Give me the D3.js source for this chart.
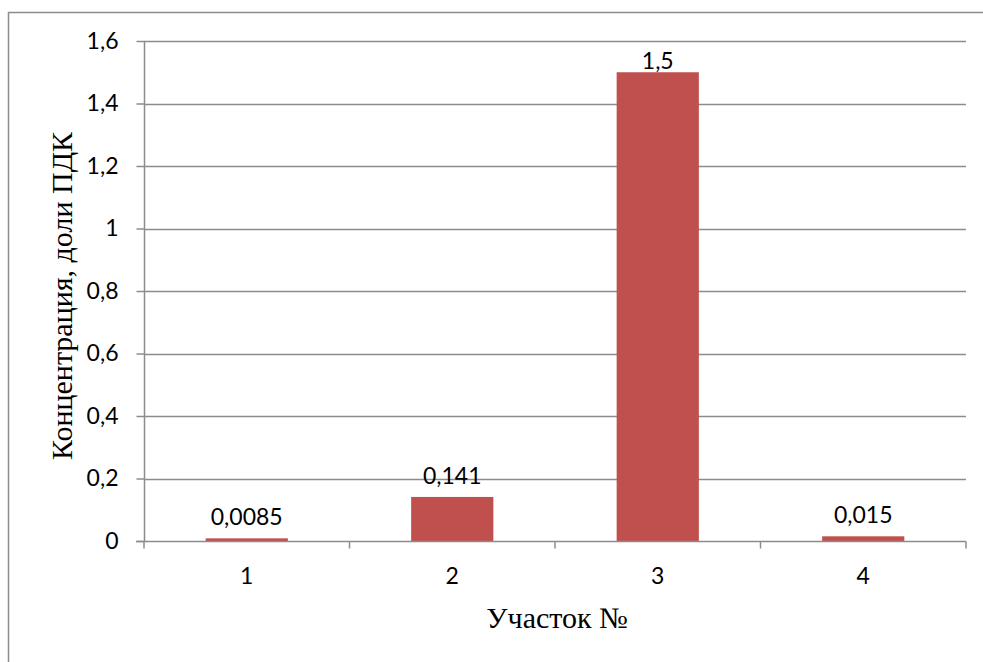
<!DOCTYPE html>
<html>
<head>
<meta charset="utf-8">
<script src="https://cdn.jsdelivr.net/npm/d3@7"></script>
<style>
  body { margin: 0; background: #fff; }
  svg { display: block; }
</style>
</head>
<body>
<div id="chart"></div>
<script>
// Concentration by site, in MPC fractions
const sites = ['1', '2', '3', '4'];
const concentrations = [0.0085, 0.141, 1.5, 0.015];
const valueLabels = ['0,0085', '0,141', '1,5', '0,015'];
const yTicks = [0, 0.2, 0.4, 0.6, 0.8, 1, 1.2, 1.4, 1.6];

const width = 983, height = 662;
const margin = { top: 41, right: 17, bottom: 121, left: 144 };
const innerW = width - margin.left - margin.right;
const innerH = height - margin.top - margin.bottom;

const svg = d3.select('#chart').append('svg')
  .attr('width', width)
  .attr('height', height);

// outer chart frame
svg.append('rect')
  .attr('x', 8.5).attr('y', 12.5)
  .attr('width', width + 10).attr('height', height + 10)
  .attr('fill', 'none')
  .attr('stroke', '#8c8c8c')
  .attr('stroke-width', 1.5);

const g = svg.append('g').attr('transform', `translate(${margin.left},${margin.top})`);

const x = d3.scaleBand().domain(sites).range([0, innerW]).paddingInner(0.6).paddingOuter(0.3);
const xb = d3.scaleBand().domain(sites).range([0, innerW]);
const y = d3.scaleLinear().domain([0, 1.6]).range([innerH, 0]);

const tickFont = 'Lato, "Open Sans", sans-serif';
const titleFont = '"Liberation Serif", "DejaVu Serif", serif';
const fmt = d => d3.format('.1f')(d).replace('.', ',').replace(/,0$/, '');

// gridlines
g.append('g')
  .selectAll('line')
  .data(yTicks.filter(d => d > 0))
  .join('line')
  .attr('x1', 0).attr('x2', innerW)
  .attr('y1', d => Math.round(y(d)) + 0.5).attr('y2', d => Math.round(y(d)) + 0.5)
  .attr('stroke', '#8c8c8c')
  .attr('stroke-width', 1.5);

// y axis
const yAxis = g.append('g')
  .attr('transform', 'translate(0.5,0)')
  .call(d3.axisLeft(y).tickValues(yTicks).tickSize(8).tickPadding(18).tickFormat(fmt));
yAxis.select('.domain').attr('stroke', '#8c8c8c').attr('stroke-width', 1.5)
  .attr('d', `M0,${innerH}V0`);
yAxis.selectAll('.tick line').attr('stroke', '#8c8c8c').attr('stroke-width', 1.5);
yAxis.selectAll('.tick text')
  .attr('fill', '#000')
  .style('font-family', tickFont)
  .style('font-size', '23px');

// bars
g.selectAll('rect.bar')
  .data(concentrations)
  .join('rect')
  .attr('class', 'bar')
  .attr('x', (d, i) => x(sites[i]))
  .attr('y', d => y(d))
  .attr('width', x.bandwidth())
  .attr('height', d => innerH - y(d))
  .attr('fill', '#c0504d');

// x axis with ticks at category boundaries
const xAxis = g.append('g').attr('transform', `translate(0,${Math.round(innerH) + 0.5})`);
xAxis.append('line')
  .attr('x1', -8).attr('x2', innerW)
  .attr('stroke', '#8c8c8c').attr('stroke-width', 1.5);
xAxis.selectAll('line.tk')
  .data(sites.concat(['end']))
  .join('line')
  .attr('class', 'tk')
  .attr('x1', (d, i) => i < sites.length ? xb(d) : innerW)
  .attr('x2', (d, i) => i < sites.length ? xb(d) : innerW)
  .attr('y1', 0).attr('y2', 7)
  .attr('stroke', '#8c8c8c').attr('stroke-width', 1.5);
xAxis.selectAll('text')
  .data(sites)
  .join('text')
  .attr('x', d => xb(d) + xb.bandwidth() / 2)
  .attr('y', 42)
  .attr('text-anchor', 'middle')
  .style('font-family', tickFont)
  .style('font-size', '23px')
  .text(d => d);

// value labels
g.selectAll('text.val')
  .data(concentrations)
  .join('text')
  .attr('class', 'val')
  .attr('x', (d, i) => x(sites[i]) + x.bandwidth() / 2)
  .attr('y', d => Math.max(y(d) - 13, 28))
  .attr('text-anchor', 'middle')
  .style('font-family', tickFont)
  .style('font-size', '23px')
  .text((d, i) => valueLabels[i]);

// axis titles
svg.append('text')
  .attr('x', 557)
  .attr('y', 628)
  .attr('text-anchor', 'middle')
  .style('font-family', titleFont)
  .style('font-size', '30px')
  .text('Участок №');

svg.append('text')
  .attr('transform', 'translate(72,296) rotate(-90)')
  .attr('text-anchor', 'middle')
  .style('font-family', titleFont)
  .style('font-size', '30px')
  .text('Концентрация, доли ПДК');
</script>
</body>
</html>
